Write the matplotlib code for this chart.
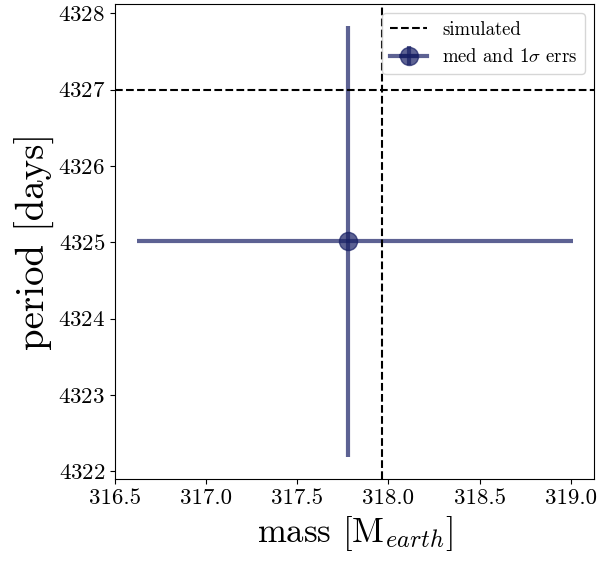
import numpy as np
import matplotlib
matplotlib.use('Agg')
import matplotlib.pyplot as plt

plt.rcParams['font.family'] = 'serif'
plt.rcParams['font.serif'] = ['cmr10']
plt.rcParams['mathtext.fontset'] = 'cm'
plt.rcParams['axes.formatter.use_mathtext'] = True

# median and 1 sigma errors
mass_med = [317.78]
mass_err = [[1.16], [1.23]]
period_med = [4325.02]
period_err = [[2.84], [2.82]]

# simulated (true) values
mass_sim = 317.965
period_sim = 4327.0

fig = plt.figure(figsize=(6, 5.61), dpi=100)
ax = fig.add_axes([0.1917, 0.1462, 0.7988, 0.8467])

ax.errorbar(mass_med, period_med, xerr=mass_err, yerr=period_err, fmt='-o',
            color='#182065', alpha=0.7, lw=3, ms=13, capsize=0,
            label=r'med and 1$\sigma$ errs')
ax.axvline(mass_sim, color='k', ls='--', lw=1.5, label='simulated')
ax.axhline(period_sim, color='k', ls='--', lw=1.5)

ax.set_xlabel(r'mass [M$_{earth}$]', fontsize=25)
ax.set_ylabel('period [days]', fontsize=28, labelpad=2)
ax.tick_params(labelsize=16.5)
ax.set_xticks([316.5, 317.0, 317.5, 318.0, 318.5, 319.0])
ax.set_xticklabels(['316.5', '317.0', '317.5', '318.0', '318.5', '319.0'])
ax.set_yticks(np.arange(4322, 4329))
ax.legend(loc='upper right', fontsize=13.5)

plt.savefig('out.png')
